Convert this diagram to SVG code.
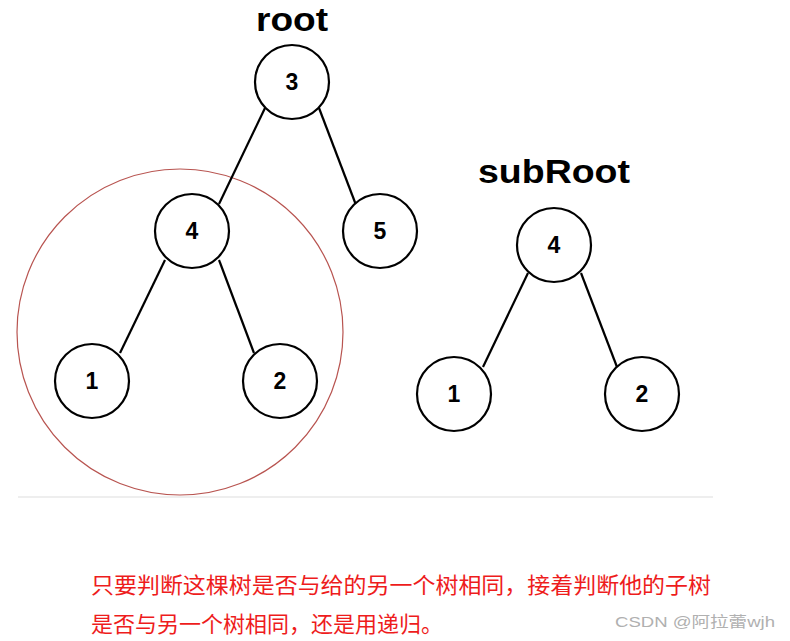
<svg xmlns="http://www.w3.org/2000/svg" width="790" height="641" viewBox="0 0 790 641">
<style>
.n{fill:#fff;stroke:#000;stroke-width:2.2}
.e{stroke:#000;stroke-width:2.2;fill:none}
.t{font-family:"Liberation Sans",Arial,sans-serif;font-weight:bold;font-size:23px;text-anchor:middle;fill:#000}
.h{font-family:"Liberation Sans",Arial,sans-serif;font-weight:bold;font-size:34px;fill:#000}
.c{font-family:"Noto Sans CJK SC",sans-serif;font-size:22px;fill:#ee1c1c}
</style>
<rect width="790" height="641" fill="#fff"/>
<text class="h" x="256" y="31" textLength="72" lengthAdjust="spacingAndGlyphs">root</text>
<text class="h" x="478" y="183" textLength="152" lengthAdjust="spacingAndGlyphs">subRoot</text>
<circle cx="180" cy="332" r="163" fill="none" stroke="#b85450" stroke-width="1.2"/>
<line x1="18" y1="497" x2="713" y2="497" stroke="#eeeeee" stroke-width="2"/>
<g id="connectors">
<line class="e" x1="265" y1="108" x2="219" y2="204"/>
<line class="e" x1="319" y1="108" x2="356" y2="205"/>
<line class="e" x1="165" y1="260" x2="120" y2="353"/>
<line class="e" x1="219" y1="260" x2="254" y2="353"/>
<line class="e" x1="528" y1="273" x2="483" y2="367"/>
<line class="e" x1="581" y1="273" x2="617" y2="367"/>
</g>
<g id="n3"><circle class="n" cx="292" cy="82" r="37"/><text class="t" x="292" y="90">3</text></g>
<g id="n4"><circle class="n" cx="192" cy="231" r="37"/><text class="t" x="192" y="239">4</text></g>
<g id="n5"><circle class="n" cx="380" cy="231" r="37"/><text class="t" x="380" y="239">5</text></g>
<g id="n1"><circle class="n" cx="92" cy="381" r="37"/><text class="t" x="92" y="389">1</text></g>
<g id="n2"><circle class="n" cx="280" cy="381" r="37"/><text class="t" x="280" y="389">2</text></g>
<g id="s4"><circle class="n" cx="554" cy="245" r="37"/><text class="t" x="554" y="253">4</text></g>
<g id="s1"><circle class="n" cx="454" cy="394" r="37"/><text class="t" x="454" y="402">1</text></g>
<g id="s2"><circle class="n" cx="642" cy="394" r="37"/><text class="t" x="642" y="402">2</text></g>
<text class="c" x="91" y="593" textLength="620" lengthAdjust="spacingAndGlyphs">只要判断这棵树是否与给的另一个树相同，接着判断他的子树</text>
<text class="c" x="91" y="632" textLength="352" lengthAdjust="spacingAndGlyphs">是否与另一个树相同，还是用递归。</text>
<text x="615" y="627" font-family="'Liberation Sans','Noto Sans CJK SC',sans-serif" font-size="15" fill="#b0b0b0" textLength="160" lengthAdjust="spacingAndGlyphs">CSDN @阿拉蕾wjh</text>
</svg>
